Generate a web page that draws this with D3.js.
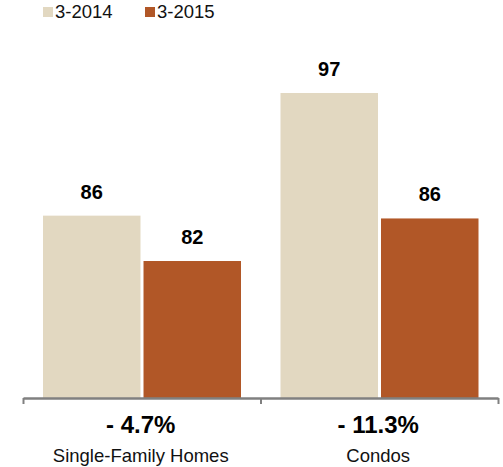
<!DOCTYPE html>
<html><head><meta charset="utf-8">
<script src="https://cdn.jsdelivr.net/npm/d3@7"></script>
<style>body{margin:0;background:#fff;} text{font-family:"Liberation Sans",Arial,Helvetica,sans-serif;}</style>
</head><body>
<svg id="c" width="503" height="467"></svg>
<script>
const categories = ["Single-Family Homes", "Condos"];
const seriesNames = ["3-2014", "3-2015"];
const values2014 = [86.05, 97];
const values2015 = [82, 85.8];
const valueLabels2014 = ["86", "97"];
const valueLabels2015 = ["82", "86"];
const changeLabels = ["- 4.7%", "- 11.3%"];
const colors = ["#E2D8C1", "#B15727"];

const svg = d3.select("#c");
const x0 = d3.scaleBand().domain(categories).range([23, 498]).padding(0);
const x1 = d3.scaleBand().domain(seriesNames).range([20, 218]).paddingInner(0.03).paddingOuter(0);
const y = d3.scaleLinear().domain([69.77, 97]).range([398, 93]);
const color = d3.scaleOrdinal().domain(seriesNames).range(colors);

const rows = categories.map((c, i) => ({
  cat: c,
  vals: [
    {s: seriesNames[0], v: values2014[i], lab: valueLabels2014[i]},
    {s: seriesNames[1], v: values2015[i], lab: valueLabels2015[i]}
  ],
  change: changeLabels[i]
}));

const g = svg.selectAll("g.grp").data(rows).enter().append("g")
  .attr("transform", d => `translate(${x0(d.cat)},0)`);

g.selectAll("rect").data(d => d.vals).enter().append("rect")
  .attr("x", d => x1(d.s)).attr("width", x1.bandwidth())
  .attr("y", d => y(d.v)).attr("height", d => y.range()[0] - y(d.v))
  .attr("fill", d => color(d.s));

g.selectAll("text.val").data(d => d.vals).enter().append("text")
  .attr("class", "val")
  .attr("x", d => x1(d.s) + x1.bandwidth() / 2)
  .attr("y", d => y(d.v) - 17)
  .attr("text-anchor", "middle").attr("font-size", 20).attr("font-weight", "bold")
  .attr("fill", "#000").text(d => d.lab);

// axis
const xEdge = d3.scaleLinear().domain([0, categories.length]).range(x0.range());
const ax = svg.append("g").attr("transform", "translate(0,398)")
  .call(d3.axisBottom(xEdge).tickValues(d3.range(categories.length + 1)).tickSize(6).tickSizeOuter(0).tickFormat(""));
ax.select(".domain").attr("stroke", "#808080").attr("stroke-width", 2.5);
ax.selectAll(".tick line").attr("stroke", "#808080").attr("stroke-width", 2);

// change labels and category labels
svg.selectAll("text.chg").data(rows).enter().append("text")
  .attr("x", d => x0(d.cat) + x0.bandwidth() / 2 - 1).attr("y", 433)
  .attr("text-anchor", "middle").attr("font-size", 24).attr("font-weight", "bold")
  .text(d => d.change);
svg.selectAll("text.cat").data(rows).enter().append("text")
  .attr("x", d => x0(d.cat) + x0.bandwidth() / 2 - 1).attr("y", 462)
  .attr("text-anchor", "middle").attr("font-size", 18.5).attr("fill", "#111")
  .text(d => d.cat);

// legend
const legX = [43, 145];
const lg = svg.selectAll("g.leg").data(seriesNames).enter().append("g")
  .attr("transform", (d, i) => `translate(${legX[i]},0)`);
lg.append("rect").attr("y", 7).attr("width", 10).attr("height", 10).attr("fill", d => color(d));
lg.append("text").attr("x", 12).attr("y", 18).attr("font-size", 18.5).attr("fill", "#111").text(d => d);
</script>
</body></html>
